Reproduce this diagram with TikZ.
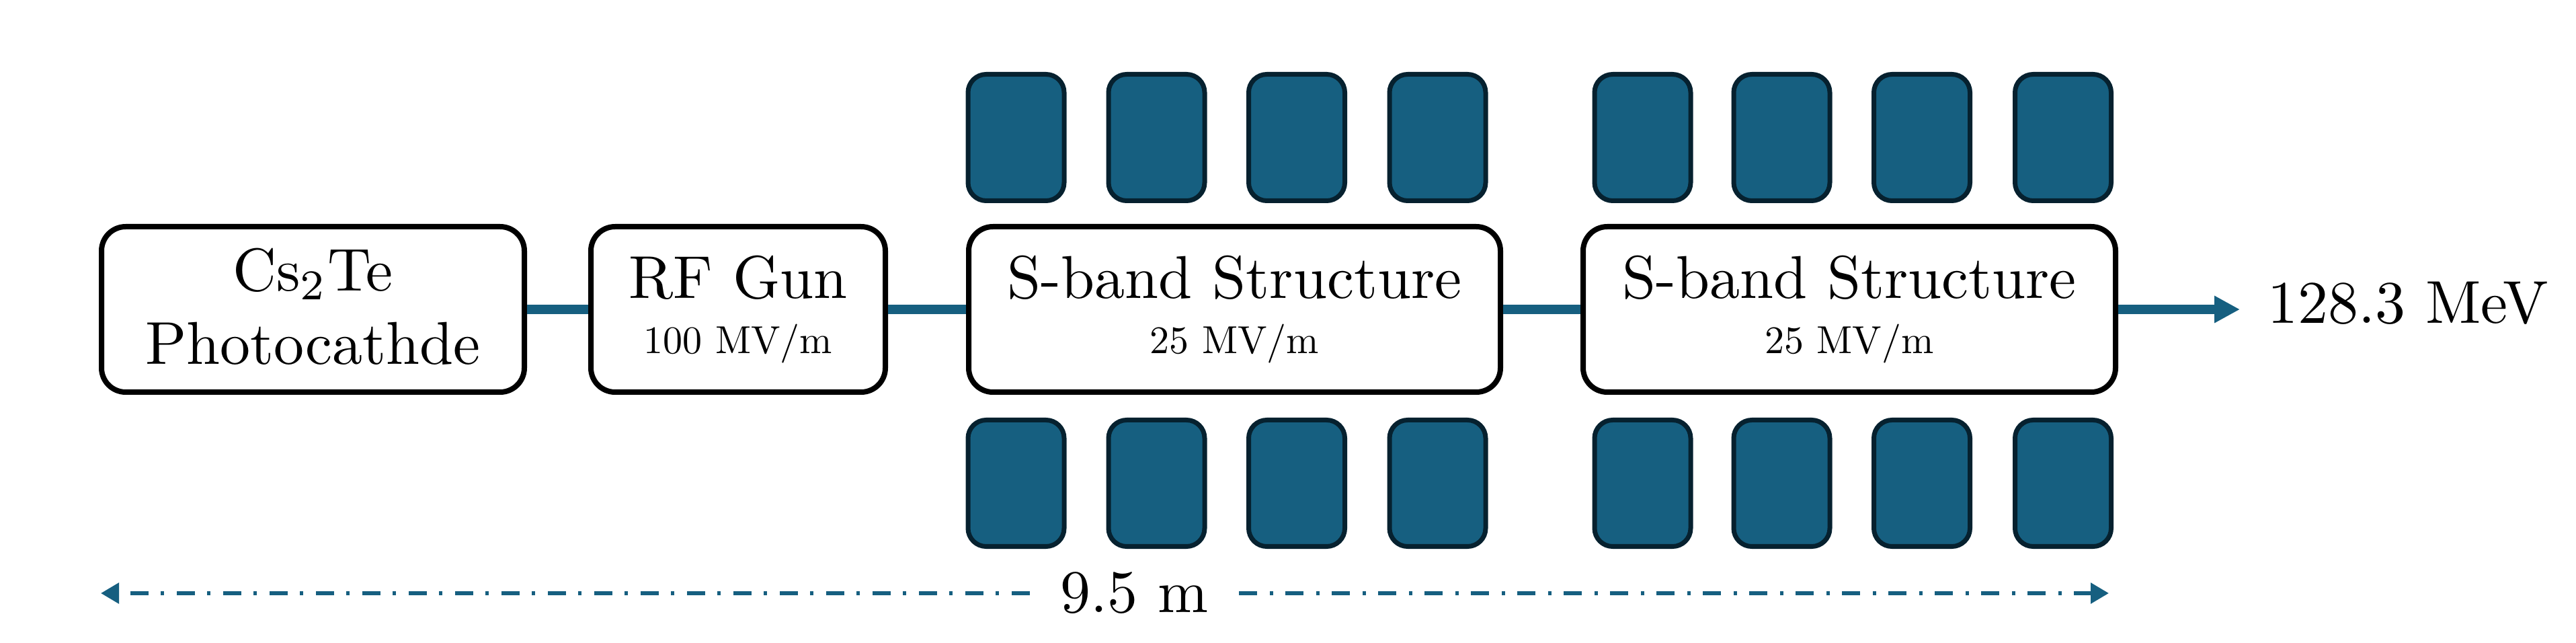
\documentclass[tikz,border=0pt]{standalone}
\usepackage{xcolor}
\usepackage{graphicx}
\usepackage{tikz}
\usetikzlibrary{arrows.meta}

\definecolor{BeamBlue}{HTML}{165F80}
\definecolor{MagnetEdge}{HTML}{06212F}

\newcommand{\mainline}[1]{\scalebox{2.56}{#1}}
\newcommand{\subline}[1]{\scalebox{1.65}{#1}}

\tikzset{
   element/.style={rectangle, rounded corners=0.36cm, draw=black, line width=0.08cm,
      fill=white, minimum height=2.46cm, align=center, inner sep=0pt,
      font=\fontsize{10}{31}\selectfont},
   magnet/.style={rectangle, rounded corners=0.27cm, draw=MagnetEdge, line width=0.07cm,
      fill=BeamBlue, minimum width=1.43cm, minimum height=1.88cm, inner sep=0pt},
   beam/.style={draw=BeamBlue, line width=0.135cm},
   span/.style={draw=BeamBlue, line width=0.06cm,
      dash pattern=on 0.27cm off 0.19cm on 0.05cm off 0.18cm,
      -{Triangle[length=0.27cm,width=0.3cm]}},
   plainlabel/.style={inner sep=0pt}
}

\begin{document}
\begin{tikzpicture}
      \useasboundingbox (0,0) rectangle (38.32,9.55);

      \node (cathode) at (4.655,4.95) [element, minimum width=6.29cm]
         {\mainline{Cs$_2$Te}\\\mainline{Photocathde\rule[-1.1pt]{0pt}{0pt}}};
      \node (gun) at (10.98,4.95) [element, minimum width=4.38cm]
         {\mainline{RF Gun}\\[-7.7pt]\subline{100 MV/m}};
      \node (sband1) at (18.365,4.95) [element, minimum width=7.91cm]
         {\mainline{S-band Structure}\\[-7.7pt]\subline{25 MV/m}};
      \node (sband2) at (27.51,4.95) [element, minimum width=7.92cm]
         {\mainline{S-band Structure}\\[-7.7pt]\subline{25 MV/m}};

      % magnets above the structures
      \node (top1) at (15.115,7.505) [magnet] {};
      \node (top2) at (17.205,7.505) [magnet] {};
      \node (top3) at (19.29,7.505) [magnet] {};
      \node (top4) at (21.385,7.505) [magnet] {};
      \node (top5) at (24.435,7.505) [magnet] {};
      \node (top6) at (26.505,7.505) [magnet] {};
      \node (top7) at (28.59,7.505) [magnet] {};
      \node (top8) at (30.69,7.505) [magnet] {};

      % magnets below the structures
      \node (bot1) at (15.115,2.365) [magnet] {};
      \node (bot2) at (17.205,2.365) [magnet] {};
      \node (bot3) at (19.29,2.365) [magnet] {};
      \node (bot4) at (21.385,2.365) [magnet] {};
      \node (bot5) at (24.435,2.365) [magnet] {};
      \node (bot6) at (26.505,2.365) [magnet] {};
      \node (bot7) at (28.59,2.365) [magnet] {};
      \node (bot8) at (30.69,2.365) [magnet] {};

      \coordinate (tip) at (33.32,4.95);
      \coordinate (spanleft) at (1.5,0.73);
      \coordinate (spanright) at (31.37,0.73);
      \node (energy) at (35.82,4.75) [plainlabel, anchor=base] {\mainline{128.3 MeV}};
      \node (length) at (16.875,0.73) [plainlabel, minimum width=3.1cm] {\mainline{9.5 m}};

      \draw [beam] (cathode) -- (gun);
      \draw [beam] (gun) -- (sband1);
      \draw [beam] (sband1) -- (sband2);
      \draw [beam, -{Triangle[length=0.38cm,width=0.38cm]}] (sband2) -- (tip);
      \draw [span] (length) -- (spanleft);
      \draw [span] (length) -- (spanright);
   \end{tikzpicture}
\end{document}
